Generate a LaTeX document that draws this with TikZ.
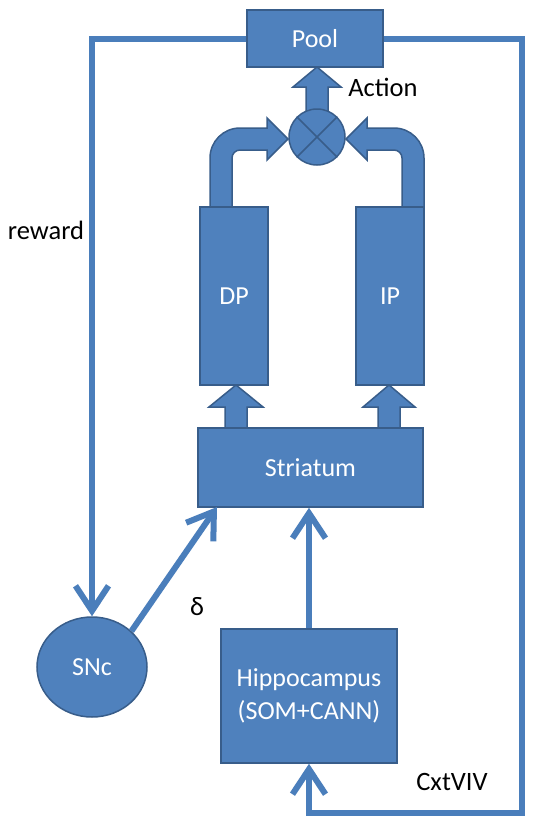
\documentclass[tikz,border=0pt]{standalone}
\usepackage{fontspec}
\setmainfont{Carlito}
\usetikzlibrary{arrows.meta,shapes.geometric,backgrounds}
\definecolor{boxfill}{HTML}{4F81BD}
\definecolor{boxline}{HTML}{385D8A}
\definecolor{wire}{HTML}{4A7EBB}

\begin{document}
\begin{tikzpicture}[x=1pt,y=-1pt,
  box/.style={draw=boxline, fill=boxfill, line width=1.5pt, text=white,
    font=\fontsize{26}{33}\selectfont, inner sep=0pt, align=center},
  blockarrow/.style={draw=boxline, fill=boxfill, line width=1.5pt, line join=miter},
  conn/.style={draw=wire, line width=6pt},
  tip/.style={-{Straight Barb[length=25pt,width=33pt,line cap=butt]}},
  lbl/.style={font=\fontsize{26.5}{30}\selectfont, text=black}]
\useasboundingbox (0,0) rectangle (535,820);

% main blocks
\node[box, minimum width=136pt, minimum height=57pt] (pool) at (315,38.5) {Pool};
\node[box, circle, minimum size=56pt] (mix) at (317,137) {};
\draw[boxline, line width=1.5pt] (mix.north west) -- (mix.south east)
      (mix.north east) -- (mix.south west);
\node[box, minimum width=68pt, minimum height=178pt] (dp) at (234,296) {DP};
\node[box, minimum width=68pt, minimum height=178pt] (ip) at (390,296) {IP};
\node[box, minimum width=225pt, minimum height=79pt] (str) at (310.5,467.5) {Striatum};
\node[box, minimum width=176pt, minimum height=134pt] (hippo) at (309,696)
  {Hippocampus\\(SOM+CANN)};
\node[box, ellipse, minimum width=110pt, minimum height=100pt] (snc) at (92,667) {SNc};

\coordinate (rc) at (522,813);
\coordinate (sd) at (217,507);

% block arrows, kept under the blocks
\begin{scope}[on background layer]
  \fill[white] (0,0) rectangle (535,820);
  % DP -> mixer
  \draw[blockarrow] (210,212) -- (210,158)
    .. controls (210,141.4) and (223.4,128) .. (240,128) -- (267,128) -- (267,118)
    -- (288,139) -- (267,160) -- (267,150) -- (240,150)
    .. controls (235.6,150) and (232,153.6) .. (232,158) -- (232,212) -- cycle;
  % IP -> mixer
  \draw[blockarrow] (424,212) -- (424,158)
    .. controls (424,141.4) and (410.6,128) .. (394,128) -- (367,128) -- (367,118)
    -- (346,139) -- (367,160) -- (367,150) -- (394,150)
    .. controls (398.4,150) and (402,153.6) .. (402,158) -- (402,212) -- cycle;
  % mixer -> Pool
  \draw[blockarrow] (306,115) -- (306,87) -- (293,87) -- (317,67) -- (341,87)
    -- (328,87) -- (328,115) -- cycle;
  % Striatum -> DP, IP
  \draw[blockarrow] (225,432) -- (225,407) -- (209,407) -- (236,385) -- (263,407)
    -- (247,407) -- (247,432) -- cycle;
  \draw[blockarrow] (378,432) -- (378,407) -- (363,407) -- (389,385) -- (415,407)
    -- (400,407) -- (400,432) -- cycle;
\end{scope}

% connectors
\draw[conn, tip] (pool.west) -| (snc.north);
\draw[conn, tip] (pool.east) -| (rc) -| (hippo.south);
\draw[conn, tip] (hippo.north) -- (hippo.north |- str.south);
\draw[conn, tip] (snc.north east) -- (sd);

% labels
\node[lbl] (lreward) at (46,230) {reward};
\node[lbl] (laction) at (383,87) {Action};
\node[lbl] (ldelta) at (197,607) {δ};
\node[lbl] (lcxt) at (452,782) {CxtVIV};
\end{tikzpicture}
\end{document}
